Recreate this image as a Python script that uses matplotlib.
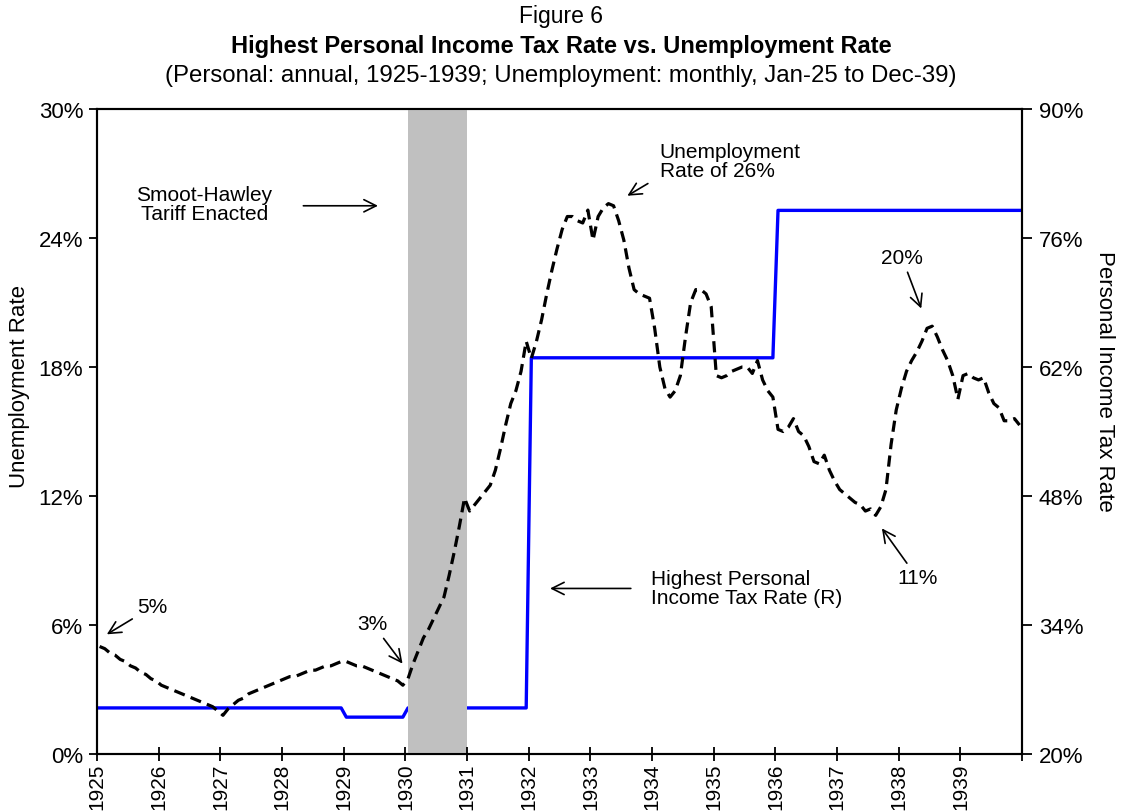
import numpy as np
import matplotlib
matplotlib.use("Agg")
import matplotlib.pyplot as plt

plt.rcParams['font.family'] = ['Liberation Sans', 'DejaVu Sans']

# annual top personal income tax rate (%), 1925-1939
tax_years = list(range(1925, 1940))
tax_rate = [25, 25, 25, 25, 24, 25, 25, 63, 63, 63, 63, 79, 79, 79, 79]

# monthly unemployment rate (%), Jan-25 .. Dec-39
unemp = [
    5.0, 4.9, 4.7, 4.6, 4.4, 4.3, 4.1, 4.0, 3.8, 3.7, 3.5, 3.4,        # 1925
    3.2, 3.1, 3.0, 2.9, 2.8, 2.7, 2.6, 2.5, 2.4, 2.3, 2.2, 2.0,        # 1926
    1.8, 2.1, 2.3, 2.5, 2.6, 2.8, 2.9, 3.0, 3.1, 3.2, 3.3, 3.4,        # 1927
    3.5, 3.6, 3.6, 3.7, 3.8, 3.9, 3.9, 4.0, 4.1, 4.1, 4.2, 4.3,        # 1928
    4.3, 4.2, 4.1, 4.1, 4.0, 3.9, 3.8, 3.7, 3.6, 3.5, 3.4, 3.2,        # 1929
    3.5, 4.2, 4.8, 5.4, 5.8, 6.3, 6.8, 7.3, 8.3, 9.4, 10.6, 11.9,      # 1930
    11.3, 11.6, 11.9, 12.2, 12.5, 13.2, 14.2, 15.3, 16.3, 16.9, 17.8, 19.2,  # 1931
    18.4, 19.2, 20.2, 21.4, 22.5, 23.5, 24.4, 25.0, 25.0, 24.8, 24.7, 25.3,  # 1932
    23.9, 25.0, 25.4, 25.6, 25.5, 24.8, 23.9, 22.6, 21.6, 21.4, 21.3, 21.2,  # 1933
    19.8, 18.0, 17.0, 16.6, 16.9, 17.6, 19.4, 21.0, 21.6, 21.6, 21.4, 20.8,  # 1934
    17.6, 17.5, 17.6, 17.8, 17.9, 18.0, 18.0, 17.7, 18.3, 17.4, 16.9, 16.6,  # 1935
    15.1, 15.0, 15.2, 15.6, 15.0, 14.8, 14.3, 13.6, 13.5, 13.9, 13.2, 12.7,  # 1936
    12.3, 12.1, 11.9, 11.7, 11.6, 11.3, 11.4, 11.1, 11.5, 12.3, 14.4, 16.0,  # 1937
    17.0, 17.8, 18.3, 18.7, 19.2, 19.8, 19.9, 19.4, 18.8, 18.3, 17.6, 16.5,  # 1938
    17.6, 17.7, 17.5, 17.4, 17.5, 16.8, 16.3, 16.1, 15.5, 15.5, 15.6, 15.3,  # 1939
]

# month centres on a continuous year axis
t = 1925 + (np.arange(len(unemp)) + 0.5) / 12.0
tax_monthly = np.repeat(tax_rate, 12)

fig = plt.figure(figsize=(11.22, 8.12), dpi=100)
ax = fig.add_axes([0.0865, 0.0702, 0.8245, 0.7943])
ax2 = ax.twinx()

ax.axvspan(1930 + 1 / 24, 1931, color='#c0c0c0', lw=0, zorder=0)

ax2.plot(t, tax_monthly, color='#0000ff', lw=2.4, zorder=2)
ax.plot(t, unemp, color='black', lw=2.3, linestyle=(0, (3.5, 2.0)), zorder=3)
ax.set_zorder(ax2.get_zorder() + 1)
ax.patch.set_visible(False)

ax.set_xlim(1925, 1940)
ax.set_ylim(0, 30)
ax2.set_ylim(20, 90)

ax.set_yticks([0, 6, 12, 18, 24, 30])
ax.set_yticklabels(['0%', '6%', '12%', '18%', '24%', '30%'])
ax2.set_yticks([20, 34, 48, 62, 76, 90])
ax2.set_yticklabels(['20%', '34%', '48%', '62%', '76%', '90%'])

ax.set_xticks(list(range(1925, 1941)))
ax.set_xticklabels([str(y) for y in tax_years] + [''], rotation=90)

ax.tick_params(axis='x', direction='inout', length=10, width=1.3, labelsize=15, pad=1)
ax.tick_params(axis='y', direction='out', length=6, width=1.3, labelsize=16, pad=4)
ax2.tick_params(axis='y', direction='out', length=7, width=1.3, labelsize=16, pad=5)
for a in (ax, ax2):
    for s in a.spines.values():
        s.set_linewidth(1.5)

ax.set_ylabel('Unemployment Rate', fontsize=16, va='center')
ax.yaxis.set_label_coords(-0.084, 0.572)
ax2.set_ylabel('Personal Income Tax Rate', fontsize=16, rotation=-90, va='center')
ax2.yaxis.set_label_coords(1.089, 0.58)

fig.text(0.5, 1 - 16 / 812, 'Figure 6', ha='center', va='center', fontsize=16.5)
fig.text(0.5, 1 - 46 / 812, 'Highest Personal Income Tax Rate vs. Unemployment Rate',
         ha='center', va='center', fontsize=17, fontweight='bold')
fig.text(0.5, 1 - 76 / 812, '(Personal: annual, 1925-1939; Unemployment: monthly, Jan-25 to Dec-39)',
         ha='center', va='center', fontsize=17.3)

arr = dict(arrowstyle='->', color='black', lw=1.2, mutation_scale=22)
fs = 15
ax.annotate('5%', xy=(1925.12, 5.5), xytext=(1925.9, 6.85), fontsize=fs,
            ha='center', va='center', arrowprops=arr)
ax.annotate('3%', xy=(1929.98, 4.1), xytext=(1929.47, 6.05), fontsize=fs,
            ha='center', va='center', arrowprops=arr)
ax.annotate('', xy=(1929.6, 25.5), xytext=(1928.3, 25.5), arrowprops=arr)
ax.text(1926.74, 25.58, 'Smoot-Hawley\nTariff Enacted', fontsize=fs, ha='center',
        va='center', linespacing=1.0)
ax.annotate('', xy=(1933.56, 25.9), xytext=(1933.97, 26.6), arrowprops=arr)
ax.text(1934.12, 27.6, 'Unemployment\nRate of 26%', fontsize=fs, ha='left',
        va='center', linespacing=1.0)
ax.annotate('20%', xy=(1938.38, 20.6), xytext=(1938.05, 23.1), fontsize=fs,
            ha='center', va='center', arrowprops=arr)
ax.annotate('11%', xy=(1937.7, 10.6), xytext=(1938.3, 8.2), fontsize=fs,
            ha='center', va='center', arrowprops=arr)
ax.annotate('', xy=(1932.3, 7.7), xytext=(1933.7, 7.7), arrowprops=arr)
ax.text(1933.98, 7.7, 'Highest Personal\nIncome Tax Rate (R)', fontsize=fs,
        ha='left', va='center', linespacing=1.0)

fig.savefig('out.png', dpi=100)
